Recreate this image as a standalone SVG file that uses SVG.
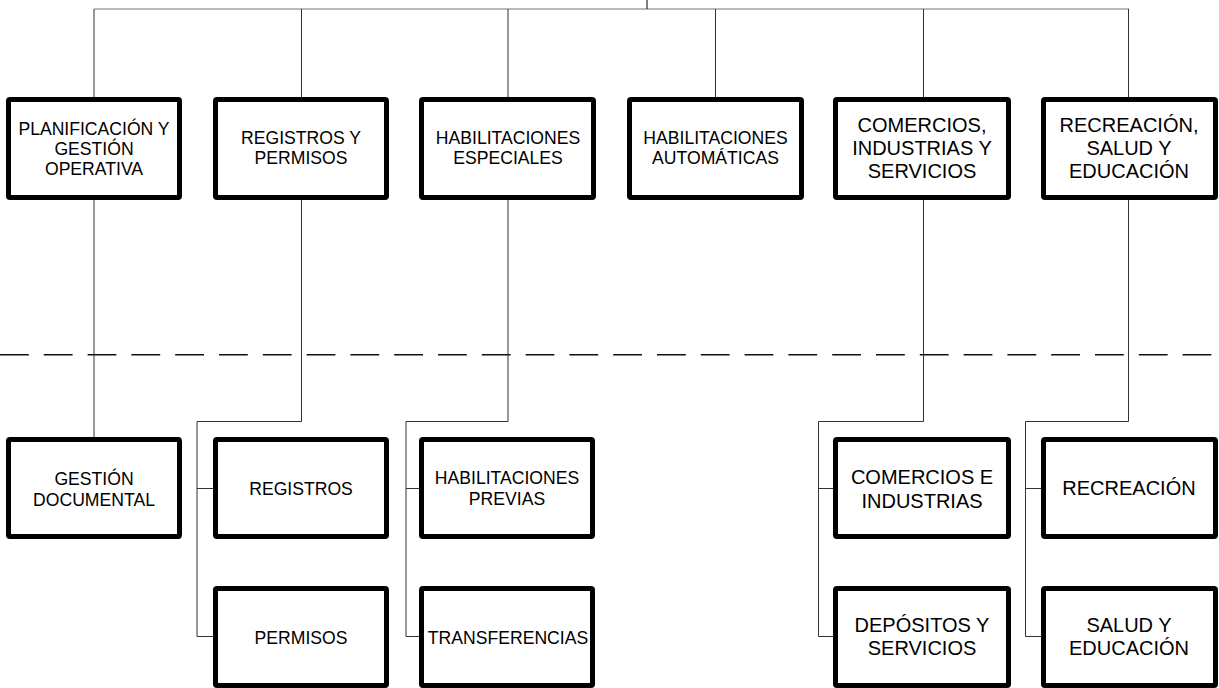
<svg xmlns="http://www.w3.org/2000/svg" width="1219" height="688" viewBox="0 0 1219 688">
<style>
.box{fill:#fff;stroke:#000;stroke-width:5;}
.t{font-family:"Liberation Sans",Arial,sans-serif;font-size:17.6px;fill:#000;text-anchor:middle;}
.t2{font-family:"Liberation Sans",Arial,sans-serif;font-size:20px;fill:#000;text-anchor:middle;}
.c{fill:none;stroke:#333;stroke-width:1;}
.h{fill:none;stroke:#777;stroke-width:1.2;}
.d{fill:none;stroke:#111;stroke-width:1.6;stroke-dasharray:28.8 15;}
</style>
<rect width="1219" height="688" fill="#fff"/>
<g id="connectors">
<line class="d" x1="0" y1="354.7" x2="1219" y2="354.7"/>
<line class="h" x1="94" y1="9" x2="1129" y2="9"/>
<line class="c" x1="647" y1="0" x2="647" y2="9" style="stroke:#000"/>
<path class="c" d="M94 9V97M301.5 9V97M508 9V97M715.5 9V97M923.5 9V97M1128.5 9V97"/>
<path class="c" d="M94 200V437"/>
<path class="c" d="M301.5 200V421.5H197V636.5H213M197 488.5H213"/>
<path class="c" d="M508 200V421.5H406V636.5H419M406 488.5H419"/>
<path class="c" d="M923.5 200V421.5H818.5V636.5H833M818.5 488.5H833"/>
<path class="c" d="M1128.5 200V421.5H1025.5V636.5H1041M1025.5 488.5H1041"/>
</g>
<g id="n1"><rect class="box" x="8.5" y="99.5" width="171" height="98" rx="1.5"/>
<text class="t" x="94" y="135">PLANIFICACIÓN Y</text><text class="t" x="94" y="155">GESTIÓN</text><text class="t" x="94" y="175">OPERATIVA</text></g>
<g id="n2"><rect class="box" x="215.5" y="99.5" width="171" height="98" rx="1.5"/>
<text class="t" x="301" y="143.5">REGISTROS Y</text><text class="t" x="301" y="163.5">PERMISOS</text></g>
<g id="n3"><rect class="box" x="421.5" y="99.5" width="172" height="98" rx="1.5"/>
<text class="t" x="508" y="143.5">HABILITACIONES</text><text class="t" x="508" y="163.5">ESPECIALES</text></g>
<g id="n4"><rect class="box" x="629.5" y="99.5" width="172" height="98" rx="1.5"/>
<text class="t" x="715.5" y="143.5">HABILITACIONES</text><text class="t" x="715.5" y="163.5">AUTOMÁTICAS</text></g>
<g id="n5"><rect class="box" x="835.5" y="99.5" width="173" height="98" rx="1.5"/>
<text class="t2" x="922" y="132">COMERCIOS,</text><text class="t2" x="922" y="155">INDUSTRIAS Y</text><text class="t2" x="922" y="178">SERVICIOS</text></g>
<g id="n6"><rect class="box" x="1043.5" y="99.5" width="172" height="98" rx="1.5"/>
<text class="t2" x="1129" y="132">RECREACIÓN,</text><text class="t2" x="1129" y="155">SALUD Y</text><text class="t2" x="1129" y="178">EDUCACIÓN</text></g>
<g id="n7"><rect class="box" x="8.5" y="439.5" width="171" height="97" rx="1.5"/>
<text class="t" x="94" y="485">GESTIÓN</text><text class="t" x="94" y="505.5">DOCUMENTAL</text></g>
<g id="n8"><rect class="box" x="215.5" y="439.5" width="171" height="97" rx="1.5"/>
<text class="t" x="301" y="495">REGISTROS</text></g>
<g id="n9"><rect class="box" x="215.5" y="588.5" width="171" height="97" rx="1.5"/>
<text class="t" x="301" y="643.5">PERMISOS</text></g>
<g id="n10"><rect class="box" x="421.5" y="439.5" width="171" height="97" rx="1.5"/>
<text class="t" x="507" y="483.5">HABILITACIONES</text><text class="t" x="507" y="505">PREVIAS</text></g>
<g id="n11"><rect class="box" x="421.5" y="588.5" width="171" height="97" rx="1.5"/>
<text class="t" x="508" y="643.5">TRANSFERENCIAS</text></g>
<g id="n12"><rect class="box" x="835.5" y="439.5" width="173" height="97" rx="1.5"/>
<text class="t2" x="922" y="483.5">COMERCIOS E</text><text class="t2" x="922" y="507.5">INDUSTRIAS</text></g>
<g id="n13"><rect class="box" x="835.5" y="588.5" width="173" height="97" rx="1.5"/>
<text class="t2" x="922" y="631.5">DEPÓSITOS Y</text><text class="t2" x="922" y="655">SERVICIOS</text></g>
<g id="n14"><rect class="box" x="1043.5" y="439.5" width="172" height="97" rx="1.5"/>
<text class="t2" x="1129" y="495">RECREACIÓN</text></g>
<g id="n15"><rect class="box" x="1043.5" y="588.5" width="172" height="97" rx="1.5"/>
<text class="t2" x="1129" y="631.5">SALUD Y</text><text class="t2" x="1129" y="655">EDUCACIÓN</text></g>
</svg>
